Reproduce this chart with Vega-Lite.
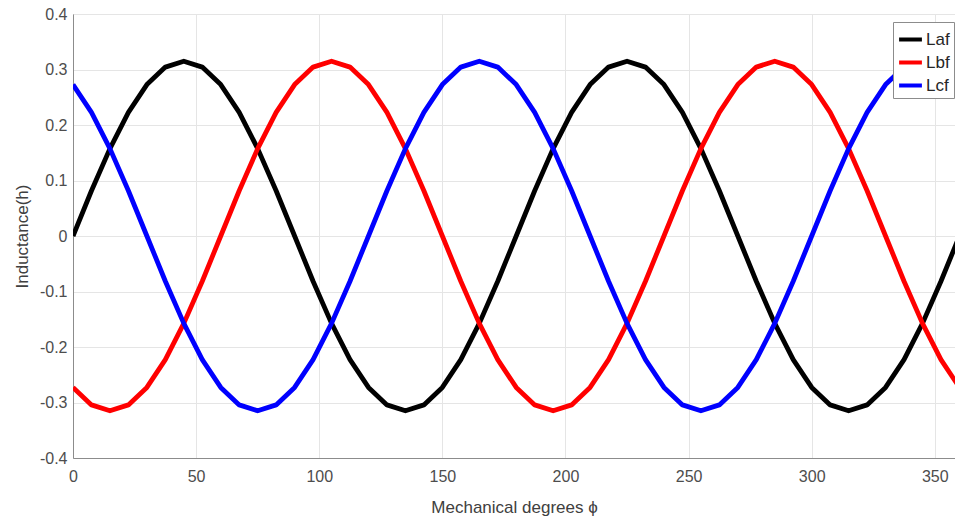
{
  "$schema": "https://vega.github.io/schema/vega-lite/v6.json",
  "autosize": {"type": "none"},
  "padding": {"left": 73, "top": 14, "right": 0, "bottom": 63},
  "width": 882,
  "height": 444,
  "background": "white",
  "config": {
    "font": "Liberation Sans",
    "view": {"stroke": "#a6a6a6", "strokeWidth": 1}
  },
  "data": {
    "values": [
      {"phi": 0, "Laf": 0, "Lbf": -0.2728, "Lcf": 0.2728},
      {"phi": 7.5, "Laf": 0.0815, "Lbf": -0.3043, "Lcf": 0.2227},
      {"phi": 15, "Laf": 0.1575, "Lbf": -0.315, "Lcf": 0.1575},
      {"phi": 22.5, "Laf": 0.2227, "Lbf": -0.3043, "Lcf": 0.0815},
      {"phi": 30, "Laf": 0.2728, "Lbf": -0.2728, "Lcf": 0},
      {"phi": 37.5, "Laf": 0.3043, "Lbf": -0.2227, "Lcf": -0.0815},
      {"phi": 45, "Laf": 0.315, "Lbf": -0.1575, "Lcf": -0.1575},
      {"phi": 52.5, "Laf": 0.3043, "Lbf": -0.0815, "Lcf": -0.2227},
      {"phi": 60, "Laf": 0.2728, "Lbf": 0, "Lcf": -0.2728},
      {"phi": 67.5, "Laf": 0.2227, "Lbf": 0.0815, "Lcf": -0.3043},
      {"phi": 75, "Laf": 0.1575, "Lbf": 0.1575, "Lcf": -0.315},
      {"phi": 82.5, "Laf": 0.0815, "Lbf": 0.2227, "Lcf": -0.3043},
      {"phi": 90, "Laf": 0, "Lbf": 0.2728, "Lcf": -0.2728},
      {"phi": 97.5, "Laf": -0.0815, "Lbf": 0.3043, "Lcf": -0.2227},
      {"phi": 105, "Laf": -0.1575, "Lbf": 0.315, "Lcf": -0.1575},
      {"phi": 112.5, "Laf": -0.2227, "Lbf": 0.3043, "Lcf": -0.0815},
      {"phi": 120, "Laf": -0.2728, "Lbf": 0.2728, "Lcf": 0},
      {"phi": 127.5, "Laf": -0.3043, "Lbf": 0.2227, "Lcf": 0.0815},
      {"phi": 135, "Laf": -0.315, "Lbf": 0.1575, "Lcf": 0.1575},
      {"phi": 142.5, "Laf": -0.3043, "Lbf": 0.0815, "Lcf": 0.2227},
      {"phi": 150, "Laf": -0.2728, "Lbf": 0, "Lcf": 0.2728},
      {"phi": 157.5, "Laf": -0.2227, "Lbf": -0.0815, "Lcf": 0.3043},
      {"phi": 165, "Laf": -0.1575, "Lbf": -0.1575, "Lcf": 0.315},
      {"phi": 172.5, "Laf": -0.0815, "Lbf": -0.2227, "Lcf": 0.3043},
      {"phi": 180, "Laf": 0, "Lbf": -0.2728, "Lcf": 0.2728},
      {"phi": 187.5, "Laf": 0.0815, "Lbf": -0.3043, "Lcf": 0.2227},
      {"phi": 195, "Laf": 0.1575, "Lbf": -0.315, "Lcf": 0.1575},
      {"phi": 202.5, "Laf": 0.2227, "Lbf": -0.3043, "Lcf": 0.0815},
      {"phi": 210, "Laf": 0.2728, "Lbf": -0.2728, "Lcf": 0},
      {"phi": 217.5, "Laf": 0.3043, "Lbf": -0.2227, "Lcf": -0.0815},
      {"phi": 225, "Laf": 0.315, "Lbf": -0.1575, "Lcf": -0.1575},
      {"phi": 232.5, "Laf": 0.3043, "Lbf": -0.0815, "Lcf": -0.2227},
      {"phi": 240, "Laf": 0.2728, "Lbf": 0, "Lcf": -0.2728},
      {"phi": 247.5, "Laf": 0.2227, "Lbf": 0.0815, "Lcf": -0.3043},
      {"phi": 255, "Laf": 0.1575, "Lbf": 0.1575, "Lcf": -0.315},
      {"phi": 262.5, "Laf": 0.0815, "Lbf": 0.2227, "Lcf": -0.3043},
      {"phi": 270, "Laf": 0, "Lbf": 0.2728, "Lcf": -0.2728},
      {"phi": 277.5, "Laf": -0.0815, "Lbf": 0.3043, "Lcf": -0.2227},
      {"phi": 285, "Laf": -0.1575, "Lbf": 0.315, "Lcf": -0.1575},
      {"phi": 292.5, "Laf": -0.2227, "Lbf": 0.3043, "Lcf": -0.0815},
      {"phi": 300, "Laf": -0.2728, "Lbf": 0.2728, "Lcf": 0},
      {"phi": 307.5, "Laf": -0.3043, "Lbf": 0.2227, "Lcf": 0.0815},
      {"phi": 315, "Laf": -0.315, "Lbf": 0.1575, "Lcf": 0.1575},
      {"phi": 322.5, "Laf": -0.3043, "Lbf": 0.0815, "Lcf": 0.2227},
      {"phi": 330, "Laf": -0.2728, "Lbf": 0, "Lcf": 0.2728},
      {"phi": 337.5, "Laf": -0.2227, "Lbf": -0.0815, "Lcf": 0.3043},
      {"phi": 345, "Laf": -0.1575, "Lbf": -0.1575, "Lcf": 0.315},
      {"phi": 352.5, "Laf": -0.0815, "Lbf": -0.2227, "Lcf": 0.3043},
      {"phi": 360, "Laf": 0, "Lbf": -0.2728, "Lcf": 0.2728}
    ]
  },
  "transform": [
    {"fold": ["Laf", "Lbf", "Lcf"], "as": ["series", "value"]}
  ],
  "mark": {"type": "line", "strokeWidth": 4.8, "clip": true, "strokeJoin": "round"},
  "encoding": {
    "x": {
      "field": "phi",
      "type": "quantitative",
      "scale": {"domain": [0, 358.2], "nice": false, "zero": false},
      "axis": {
        "values": [0, 50, 100, 150, 200, 250, 300, 350],
        "title": "Mechanical degrees ϕ",
        "titleFontSize": 17,
        "titleFontWeight": "normal",
        "titleColor": "#404040",
        "titlePadding": 15,
        "labelFontSize": 16,
        "labelColor": "#4d4d4d",
        "labelPadding": 10,
        "ticks": false,
        "domainColor": "#8c8c8c",
        "gridColor": "#e5e5e5",
        "labelFlush": false
      }
    },
    "y": {
      "field": "value",
      "type": "quantitative",
      "scale": {"domain": [-0.4, 0.4], "nice": false, "zero": false},
      "axis": {
        "values": [-0.4, -0.3, -0.2, -0.1, 0, 0.1, 0.2, 0.3, 0.4],
        "labelExpr": "'' + datum.value",
        "title": "Inductance(h)",
        "titleFontSize": 17,
        "titleFontWeight": "normal",
        "titleColor": "#404040",
        "titlePadding": 8,
        "labelFontSize": 16,
        "labelColor": "#4d4d4d",
        "labelPadding": 6,
        "ticks": false,
        "domainColor": "#8c8c8c",
        "gridColor": "#e5e5e5",
        "labelFlush": false
      }
    },
    "color": {
      "field": "series",
      "type": "nominal",
      "scale": {"domain": ["Laf", "Lbf", "Lcf"], "range": ["#000000", "#ff0000", "#0000ff"]},
      "legend": {
        "title": null,
        "orient": "none",
        "legendX": 820,
        "legendY": 8,
        "symbolType": "stroke",
        "symbolSize": 520,
        "symbolStrokeWidth": 4,
        "labelFontSize": 17,
        "labelColor": "#262626",
        "labelOffset": 2,
        "rowPadding": 1,
        "strokeColor": "#8c8c8c",
        "fillColor": "white",
        "padding": 4
      }
    }
  }
}
